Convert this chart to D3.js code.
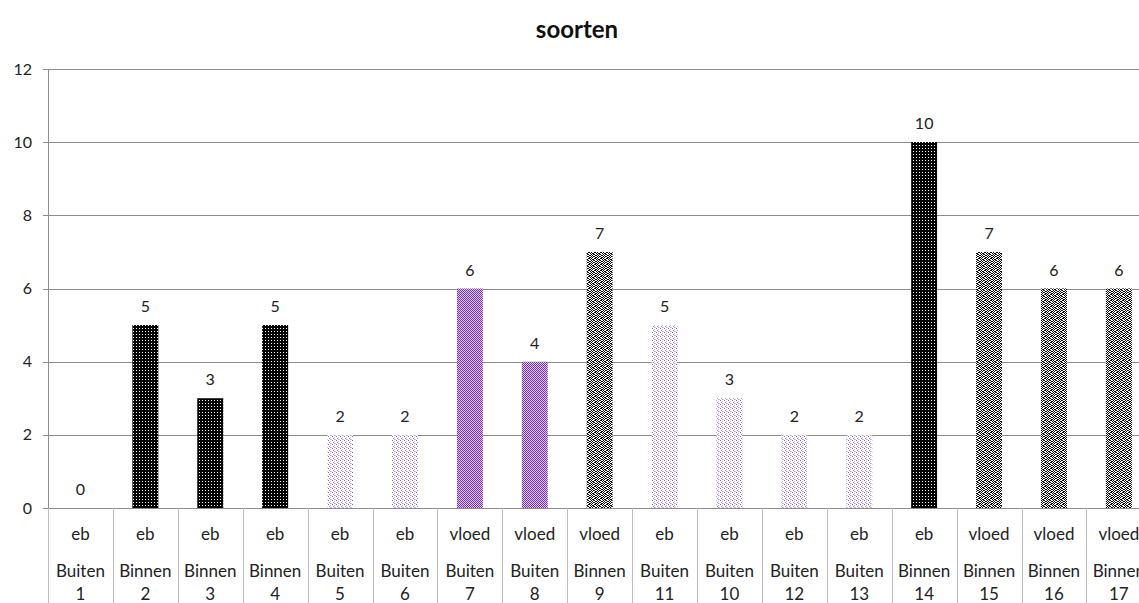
<!DOCTYPE html>
<html>
<head>
<meta charset="utf-8">
<script src="https://cdn.jsdelivr.net/npm/d3@7"></script>
<style>
  body { margin: 0; background: #fff; }
  svg { display: block; font-family: Lato, 'Open Sans', sans-serif; }
</style>
</head>
<body>
<svg id="chart"></svg>
<script>
var width = 1139;
var height = 603;

// data
var ids = ['1', '2', '3', '4', '5', '6', '7', '8', '9', '11', '10', '12', '13', '14', '15', '16', '17'];
var tide = ['eb', 'eb', 'eb', 'eb', 'eb', 'eb', 'vloed', 'vloed', 'vloed', 'eb', 'eb', 'eb', 'eb', 'eb', 'vloed', 'vloed', 'vloed'];
var zone = ['Buiten', 'Binnen', 'Binnen', 'Binnen', 'Buiten', 'Buiten', 'Buiten', 'Buiten', 'Binnen', 'Buiten', 'Buiten', 'Buiten', 'Buiten', 'Binnen', 'Binnen', 'Binnen', 'Binnen'];
var values = [0, 5, 3, 5, 2, 2, 6, 4, 7, 5, 3, 2, 2, 10, 7, 6, 6];
var yTicks = [0, 2, 4, 6, 8, 10, 12];

var data = ids.map(function (id, i) {
  return { id: id, tide: tide[i], zone: zone[i], value: values[i], key: i };
});

var plotLeft = 48;
var step = 64.9;
var plotTop = 69;
var plotBottom = 508;

var svg = d3.select('#chart')
  .attr('width', width)
  .attr('height', height);

// fill patterns
var defs = svg.append('defs');

function pattern(id, size, bg, dots) {
  var p = defs.append('pattern')
    .attr('id', id)
    .attr('patternUnits', 'userSpaceOnUse')
    .attr('width', size)
    .attr('height', size);
  p.append('rect').attr('width', size).attr('height', size).attr('fill', bg);
  dots.forEach(function (d) {
    p.append('rect')
      .attr('x', d[0]).attr('y', d[1])
      .attr('width', 1).attr('height', 1)
      .attr('fill', d[2]);
  });
}

pattern('dark', 3, '#000', [[1, 1, '#fff']]);
pattern('lilac', 4, '#fff', [[0, 0, '#8a5cc8'], [2, 1, '#c9b2e8'], [1, 2, '#a47fd6'], [3, 3, '#d7c6ee'], [2, 3, '#b79ae0']]);
pattern('purple', 2, '#7434a8', [[1, 0, '#dcc8f0'], [0, 1, '#dcc8f0']]);
pattern('grey', 6, '#fff', [
  [0, 0, '#000'], [1, 0, '#000'], [3, 0, '#000'],
  [2, 1, '#000'], [4, 1, '#000'], [5, 1, '#000'],
  [0, 2, '#000'], [3, 2, '#000'], [5, 2, '#333'],
  [1, 3, '#000'], [2, 3, '#000'], [4, 3, '#000'],
  [0, 4, '#222'], [3, 4, '#000'], [5, 4, '#000'],
  [1, 5, '#000'], [2, 5, '#000'], [4, 5, '#000']
]);

var fillScale = d3.scaleOrdinal()
  .domain(['eb Binnen', 'eb Buiten', 'vloed Buiten', 'vloed Binnen'])
  .range(['url(#dark)', 'url(#lilac)', 'url(#purple)', 'url(#grey)']);

var xScale = d3.scaleBand()
  .domain(data.map(d => d.key))
  .range([plotLeft, plotLeft + step * data.length])
  .padding(0);

var yScale = d3.scaleLinear()
  .domain([0, 12])
  .range([plotBottom, plotTop]);

// gridlines
svg.append('g')
  .selectAll('line')
  .data(yTicks)
  .enter()
  .append('line')
  .attr('x1', plotLeft - 5)
  .attr('x2', width)
  .attr('y1', d => Math.round(yScale(d)) + 0.5)
  .attr('y2', d => Math.round(yScale(d)) + 0.5)
  .attr('stroke', '#8c8c8c')
  .attr('stroke-width', 1);

// y axis line
svg.append('line')
  .attr('x1', plotLeft + 0.5)
  .attr('x2', plotLeft + 0.5)
  .attr('y1', plotTop)
  .attr('y2', plotBottom)
  .attr('stroke', '#8c8c8c');

// y tick labels
svg.append('g')
  .selectAll('text')
  .data(yTicks)
  .enter()
  .append('text')
  .attr('x', 32)
  .attr('y', d => yScale(d))
  .attr('dy', '0.35em')
  .style('text-anchor', 'end')
  .style('font-size', '16px')
  .attr('fill', '#222')
  .text(d => d);

// bars
var barW = xScale.bandwidth() * 0.4;

svg.append('g')
  .selectAll('rect')
  .data(data)
  .enter()
  .append('rect')
  .attr('x', d => xScale(d.key) + (xScale.bandwidth() - barW) / 2)
  .attr('y', d => yScale(d.value))
  .attr('width', barW)
  .attr('height', d => yScale(0) - yScale(d.value))
  .attr('fill', d => fillScale(d.tide + ' ' + d.zone));

// value labels
svg.append('g')
  .selectAll('text')
  .data(data)
  .enter()
  .append('text')
  .attr('x', d => xScale(d.key) + xScale.bandwidth() / 2)
  .attr('y', d => yScale(d.value) - 13)
  .style('text-anchor', 'middle')
  .style('font-size', '16px')
  .attr('fill', '#222')
  .text(d => d.value);

// category separators
var bounds = data.map(d => xScale(d.key)).concat([xScale.range()[1]]);
svg.append('g')
  .selectAll('line')
  .data(bounds)
  .enter()
  .append('line')
  .attr('x1', d => Math.round(d) + 0.5)
  .attr('x2', d => Math.round(d) + 0.5)
  .attr('y1', plotBottom)
  .attr('y2', height)
  .attr('stroke', '#bdbdbd');

// category labels, three rows
var rows = [
  { field: 'tide', y: 540 },
  { field: 'zone', y: 577 },
  { field: 'id', y: 600 }
];

rows.forEach(function (r) {
  svg.append('g')
    .selectAll('text')
    .data(data)
    .enter()
    .append('text')
    .attr('x', d => xScale(d.key) + xScale.bandwidth() / 2)
    .attr('y', r.y)
    .style('text-anchor', 'middle')
    .style('font-size', '17px')
    .attr('fill', '#222')
    .text(d => d[r.field]);
});

// title
svg.append('text')
  .attr('x', 577)
  .attr('y', 38)
  .style('text-anchor', 'middle')
  .style('font-size', '24px')
  .style('font-weight', 'bold')
  .attr('fill', '#111')
  .text('soorten');
</script>
</body>
</html>
